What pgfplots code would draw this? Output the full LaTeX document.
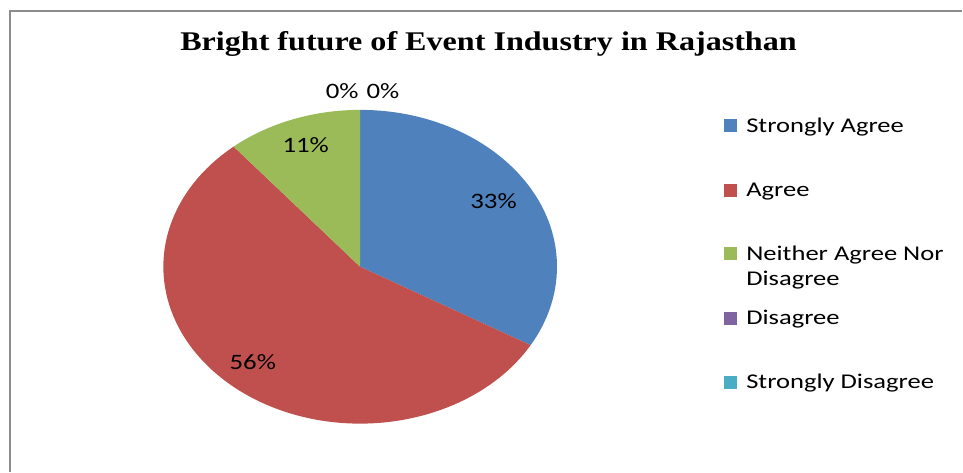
\documentclass[border=0pt]{standalone}
\usepackage{fontspec}
\setmainfont{Liberation Serif}
\newfontfamily\calfont{Carlito}
\usepackage{pgfplots}
\usepackage{pgfplotstable}
\pgfplotsset{compat=1.18}
\definecolor{cSA}{HTML}{4F81BD}
\definecolor{cAG}{HTML}{C0504D}
\definecolor{cNE}{HTML}{9BBB59}
\definecolor{cDI}{HTML}{8064A2}
\definecolor{cSD}{HTML}{4BACC6}
\definecolor{frame}{HTML}{8C8C8C}
\pgfplotstableread{
value
3
5
1
0
0
}\piedata
\begin{document}
\pgfplotstablegetelem{0}{value}\of\piedata\edef\vA{\pgfplotsretval}%
\pgfplotstablegetelem{1}{value}\of\piedata\edef\vB{\pgfplotsretval}%
\pgfplotstablegetelem{2}{value}\of\piedata\edef\vC{\pgfplotsretval}%
\pgfplotstablegetelem{3}{value}\of\piedata\edef\vD{\pgfplotsretval}%
\pgfplotstablegetelem{4}{value}\of\piedata\edef\vE{\pgfplotsretval}%
\pgfmathsetmacro\tot{\vA+\vB+\vC+\vD+\vE}%
\pgfmathsetmacro\aA{90}%
\pgfmathsetmacro\aB{\aA-360*\vA/\tot}%
\pgfmathsetmacro\aC{\aB-360*\vB/\tot}%
\pgfmathsetmacro\aD{\aC-360*\vC/\tot}%
\pgfmathsetmacro\aE{\aD-360*\vD/\tot}%
\pgfmathsetmacro\aF{\aE-360*\vE/\tot}%
\begin{tikzpicture}
\begin{axis}[hide axis, scale only axis, width=963pt, height=472pt,
  xmin=0, xmax=963, ymin=0, ymax=472, clip=false]
\path (axis cs:0,0) rectangle (axis cs:963,472);
% frame
\draw[frame, line width=1.8pt] (axis cs:9.7,0) -- (axis cs:9.7,461) -- (axis cs:963,461);
% pie slices
\fill[cSA] (axis cs:360.5,205) -- ++(\aA:197pt and 157pt) arc[start angle=\aA, end angle=\aB, x radius=197pt, y radius=157pt] -- cycle;
\fill[cAG] (axis cs:360.5,205) -- ++(\aB:197pt and 157pt) arc[start angle=\aB, end angle=\aC, x radius=197pt, y radius=157pt] -- cycle;
\fill[cNE] (axis cs:360.5,205) -- ++(\aC:197pt and 157pt) arc[start angle=\aC, end angle=\aD, x radius=197pt, y radius=157pt] -- cycle;
% title
\node[anchor=base, inner sep=0, xscale=1.19] at (axis cs:489,421) {\fontsize{27}{30}\selectfont\bfseries Bright future of Event Industry in Rajasthan};
% data labels
\begin{scope}[every node/.style={anchor=base, inner sep=0, xscale=1.22, font=\calfont\fontsize{22}{26}\selectfont}]
\node at (axis cs:494,263) {33\%};
\node at (axis cs:253,102) {56\%};
\node at (axis cs:306,319.3) {11\%};
\node at (axis cs:342.5,373.7) {0\%};
\node at (axis cs:383.3,373.7) {0\%};
\end{scope}
% legend
\begin{scope}[every node/.style={anchor=base west, inner sep=0, xscale=1.265, font=\calfont\fontsize{21}{25}\selectfont}]
\fill[cSA] (axis cs:725,339.7) rectangle (axis cs:738,352.7);
\node at (axis cs:746.7,339.7) {Strongly Agree};
\fill[cAG] (axis cs:725,275.3) rectangle (axis cs:738,288.3);
\node at (axis cs:746.7,275.3) {Agree};
\fill[cNE] (axis cs:725,211.3) rectangle (axis cs:738,224.3);
\node at (axis cs:746.7,211.3) {Neither Agree Nor};
\node at (axis cs:746.7,186.3) {Disagree};
\fill[cDI] (axis cs:725,147) rectangle (axis cs:738,160);
\node at (axis cs:746.7,147) {Disagree};
\fill[cSD] (axis cs:725,83) rectangle (axis cs:738,96);
\node at (axis cs:746.7,83) {Strongly Disagree};
\end{scope}
\end{axis}
\end{tikzpicture}
\end{document}
